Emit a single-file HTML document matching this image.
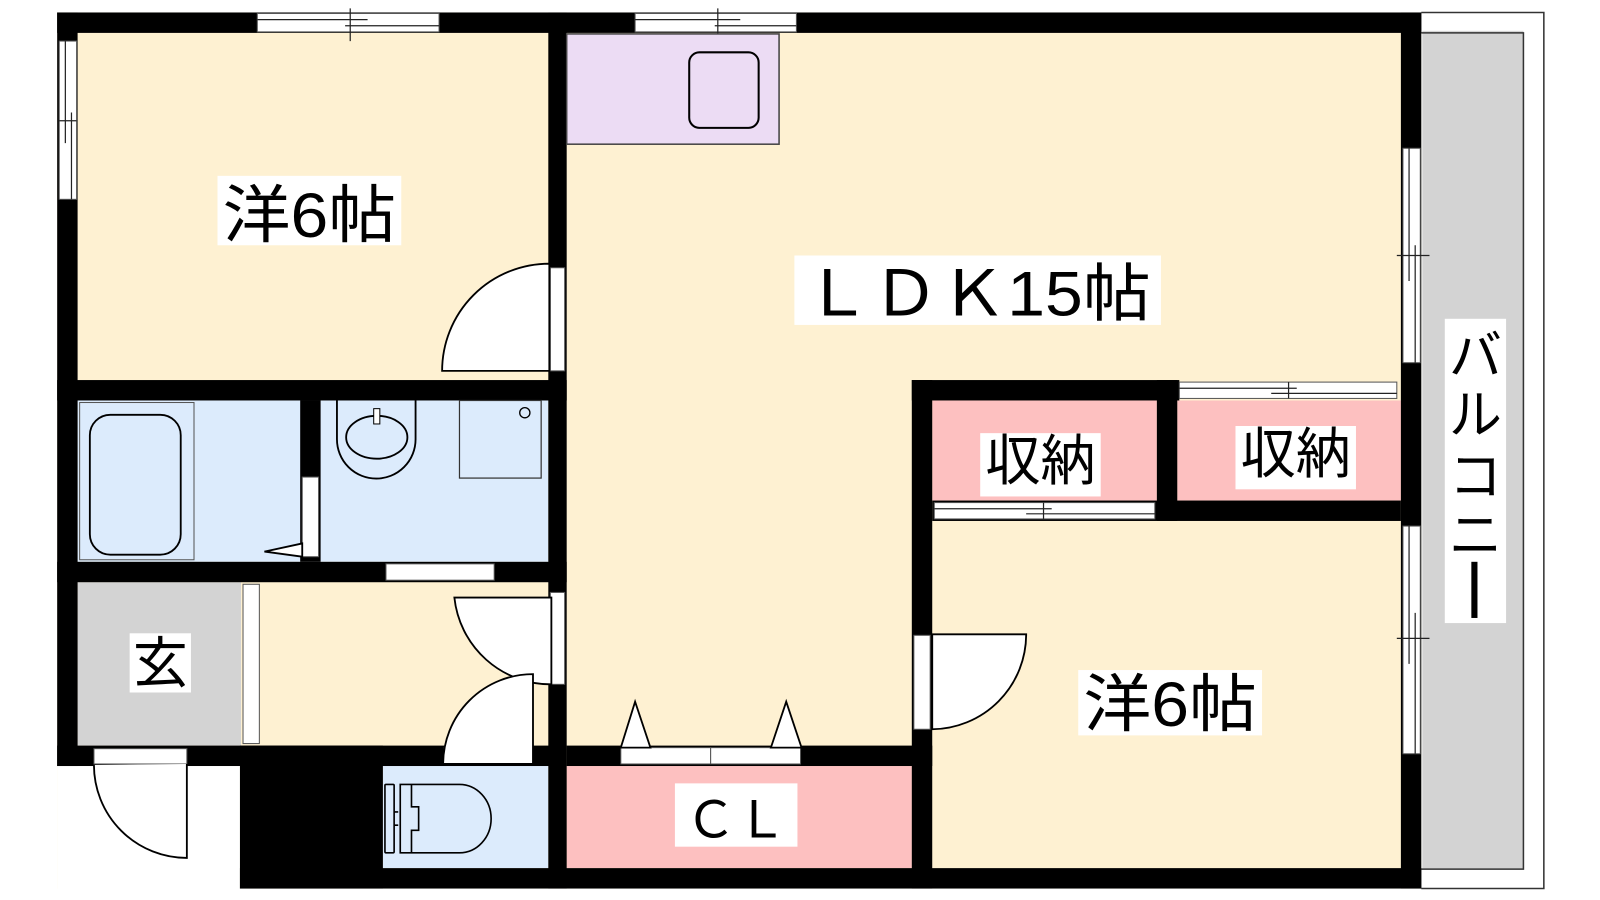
<!DOCTYPE html>
<html><head><meta charset="utf-8"><style>
html,body{margin:0;padding:0;background:#fff;width:1600px;height:900px;overflow:hidden}
svg{display:block}
text{font-family:"Liberation Sans","Noto Sans CJK JP",sans-serif;fill:#000}
</style></head><body>
<svg width="1600" height="900" viewBox="0 0 1567 881" xmlns="http://www.w3.org/2000/svg">
<g stroke="none">
<rect x="56" y="12" width="1336" height="858" fill="#fef1d2"/>
<rect x="56" y="750" width="179" height="130" fill="#fff"/>
<rect x="76" y="392" width="461" height="158" fill="#dcebfc"/>
<rect x="76" y="570" width="160" height="160" fill="#d3d3d3"/>
<rect x="375" y="750" width="162" height="100" fill="#dcebfc"/>
<rect x="555" y="750" width="338" height="100" fill="#fdc0c0"/>
<rect x="913" y="392" width="220" height="98" fill="#fdc0c0"/>
<rect x="1153" y="392" width="219" height="98" fill="#fdc0c0"/>
<rect x="1392" y="12" width="120" height="858" fill="#fff"/>
<rect x="1393" y="30" width="99" height="821" fill="#d3d3d3"/>
</g>
<g fill="none" stroke="#333" stroke-width="1.5">
<path d="M1392 12 H1512 V870 H1392"/>
<path d="M1392 32 H1492 V851 H1392"/>
</g>
<g fill="#000">
<rect x="56" y="12" width="1336" height="20"/>
<rect x="56" y="12" width="20" height="738"/>
<rect x="56" y="730" width="499" height="20"/>
<rect x="235" y="730" width="140" height="140"/>
<rect x="235" y="850" width="1157" height="20"/>
<rect x="537" y="12" width="18" height="858"/>
<rect x="56" y="372" width="499" height="20"/>
<rect x="294" y="392" width="20" height="158"/>
<rect x="56" y="550" width="499" height="20"/>
<rect x="555" y="730" width="358" height="20"/>
<rect x="893" y="372" width="20" height="498"/>
<rect x="893" y="372" width="262" height="20"/>
<rect x="1133" y="372" width="20" height="138"/>
<rect x="913" y="490" width="459" height="20"/>
<rect x="1372" y="12" width="20" height="858"/>
</g>
<g fill="#fff" stroke="#555" stroke-width="1">
<rect x="252" y="13" width="178" height="18"/>
<rect x="622" y="13" width="158" height="18"/>
<rect x="58" y="40" width="17" height="155"/>
<rect x="1374" y="145" width="17" height="210"/>
<rect x="1374" y="515" width="17" height="223"/>
<rect x="1155" y="374" width="213" height="16"/>
<rect x="915" y="492" width="216" height="16"/>
<rect x="539" y="262" width="14" height="101"/>
<rect x="539" y="580" width="14" height="90"/>
<rect x="296" y="467" width="16" height="78"/>
<rect x="378" y="552" width="106" height="16"/>
<rect x="238" y="572" width="16" height="156"/>
<rect x="92" y="733" width="91" height="15"/>
<rect x="435" y="732" width="87" height="16"/>
<rect x="608" y="732" width="88" height="16"/>
<rect x="696" y="732" width="88" height="16"/>
<rect x="895" y="622" width="16" height="92"/>
</g>
<g stroke="#222" stroke-width="1.2" fill="none">
<path d="M252 19 H360 M338 25 H430 M343 8 V40"/>
<path d="M622 19 H725 M700 25 H780 M703 8 V40"/>
<path d="M64 40 V140 M70 110 V195 M58 118 H75"/>
<path d="M1380 145 V275 M1386 240 V355 M1368 250 H1400"/>
<path d="M1380 515 V650 M1386 600 V738 M1368 625 H1400"/>
<path d="M1155 380 H1270 M1245 385 H1368 M1262 374 V390"/>
<path d="M915 498 H1030 M1005 503 H1131 M1022 492 V508"/>
</g>
<g fill="#fff" stroke="#000" stroke-width="1.8">
<path d="M538 363 H433 A105 105 0 0 1 538 258 Z"/>
<path d="M540 585 H445 A95 95 0 0 0 540 670 Z"/>
<path d="M522 748 H434 A88 88 0 0 1 522 660 Z"/>
<path d="M913 621 H1005 A93 93 0 0 1 913 714 Z"/>
<path d="M183 748 V840 A91 91 0 0 1 92 749"/>
<path d="M608 732 L622 687 L637 732 Z"/>
<path d="M755 732 L770 687 L785 732 Z"/>
<path d="M296 545 L259 540 L296 532 Z"/>
</g>
<rect x="555" y="33" width="208" height="108" fill="#ecdcf4" stroke="#444" stroke-width="1.5"/>
<rect x="675" y="51" width="68" height="74" rx="10" fill="none" stroke="#000" stroke-width="2"/>
<rect x="78" y="394" width="112" height="154" fill="none" stroke="#555" stroke-width="1"/>
<rect x="88" y="406" width="89" height="137" rx="20" fill="none" stroke="#000" stroke-width="1.8"/>
<path d="M330 392 V430 A38 38 0 0 0 407 430 V392" fill="none" stroke="#000" stroke-width="1.8"/>
<ellipse cx="369" cy="428" rx="30" ry="21" fill="none" stroke="#000" stroke-width="1.8"/>
<rect x="366" y="400" width="6" height="15" fill="#fff" stroke="#000" stroke-width="1"/>
<rect x="450" y="392" width="80" height="76" fill="none" stroke="#333" stroke-width="1.2"/>
<circle cx="514" cy="404" r="5" fill="none" stroke="#000" stroke-width="1.3"/>
<g fill="none" stroke="#000" stroke-width="1.6">
<rect x="377" y="768" width="9" height="67" rx="1"/>
<path d="M386 795 H390 M386 808 H390"/>
<path d="M392 768 H450 A31 33.5 0 0 1 450 835 H392 Z"/>
<path d="M403 768 V790 H410 V813 H403 V835"/>
</g>
<g fill="#fff">
<rect x="213" y="172" width="180" height="68"/>
<rect x="778" y="250" width="359" height="68"/>
<rect x="960" y="424" width="118" height="62"/>
<rect x="1210" y="417" width="118" height="62"/>
<rect x="127" y="620" width="60" height="58"/>
<rect x="661" y="767" width="120" height="62"/>
<rect x="1056" y="656" width="180" height="64"/>
<rect x="1415" y="312" width="60" height="298"/>
</g>
<g font-size="62">
<text x="303" y="232" text-anchor="middle" textLength="170" lengthAdjust="spacingAndGlyphs">洋6帖</text>
<text x="957" y="309" text-anchor="middle" textLength="340" lengthAdjust="spacingAndGlyphs">ＬＤＫ15帖</text>
<text x="1146" y="711" text-anchor="middle" textLength="170" lengthAdjust="spacingAndGlyphs">洋6帖</text>
</g>
<g font-size="54">
<text x="1019" y="470" text-anchor="middle">収納</text>
<text x="1269" y="463" text-anchor="middle">収納</text>
<text x="157" y="668" text-anchor="middle">玄</text>
<text x="721" y="820" text-anchor="middle" font-size="50">ＣＬ</text>
</g>
<g font-size="52" text-anchor="middle">
<text x="1445" y="366">バ</text>
<text x="1445" y="424">ル</text>
<text x="1445" y="484">コ</text>
<text x="1445" y="542">ニ</text>
</g>
<rect x="1441" y="550" width="6" height="55" fill="#000"/>
</svg>
</body></html>
